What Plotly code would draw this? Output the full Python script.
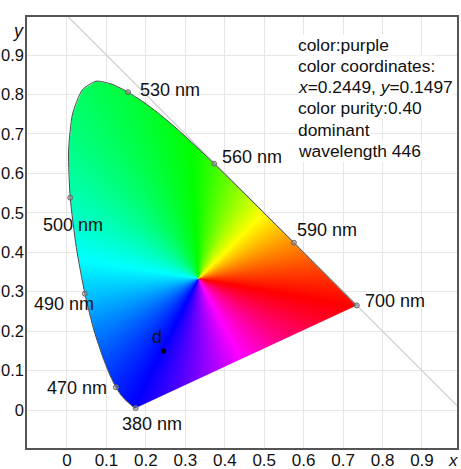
import numpy as np
import plotly.graph_objects as go

# CIE 1931 2-degree spectral locus, 380-700 nm in 5 nm steps
wavelength_nm = list(range(380, 705, 5))
locus_x = [0.1741, 0.1740, 0.1738, 0.1736, 0.1733, 0.1730, 0.1726, 0.1721, 0.1714, 0.1703,
           0.1689, 0.1669, 0.1644, 0.1611, 0.1566, 0.1510, 0.1440, 0.1355, 0.1241, 0.1096,
           0.0913, 0.0687, 0.0454, 0.0235, 0.0082, 0.0039, 0.0139, 0.0389, 0.0743, 0.1142,
           0.1547, 0.1929, 0.2296, 0.2658, 0.3016, 0.3373, 0.3731, 0.4087, 0.4441, 0.4788,
           0.5125, 0.5448, 0.5752, 0.6029, 0.6270, 0.6482, 0.6658, 0.6801, 0.6915, 0.7006,
           0.7079, 0.7140, 0.7190, 0.7230, 0.7260, 0.7283, 0.7300, 0.7311, 0.7320, 0.7327,
           0.7334, 0.7340, 0.7344, 0.7346, 0.7347]
locus_y = [0.0050, 0.0050, 0.0049, 0.0049, 0.0048, 0.0048, 0.0048, 0.0048, 0.0051, 0.0058,
           0.0069, 0.0086, 0.0109, 0.0138, 0.0177, 0.0227, 0.0297, 0.0399, 0.0578, 0.0868,
           0.1327, 0.2007, 0.2950, 0.4127, 0.5384, 0.6548, 0.7502, 0.8120, 0.8338, 0.8262,
           0.8059, 0.7816, 0.7543, 0.7243, 0.6923, 0.6589, 0.6245, 0.5896, 0.5547, 0.5202,
           0.4866, 0.4544, 0.4242, 0.3965, 0.3725, 0.3514, 0.3340, 0.3197, 0.3083, 0.2993,
           0.2920, 0.2859, 0.2809, 0.2770, 0.2740, 0.2717, 0.2700, 0.2689, 0.2680, 0.2673,
           0.2666, 0.2660, 0.2656, 0.2654, 0.2653]

labeled_nm = [380, 470, 490, 500, 530, 560, 590, 700]

white_point = (1 / 3, 1 / 3)
sample_x = 0.2449
sample_y = 0.1497
sample_name = "d"

info_lines = ["color:purple",
              "color coordinates:",
              "<i>x</i>=0.2449, <i>y</i>=0.1497",
              "color purity:0.40",
              "dominant",
              "wavelength 446"]

x_ticks = [0, 0.1, 0.2, 0.3, 0.4, 0.5, 0.6, 0.7, 0.8, 0.9]
y_ticks = [0, 0.1, 0.2, 0.3, 0.4, 0.5, 0.6, 0.7, 0.8, 0.9]

# ---- layout geometry ----
W, H = 461, 469
M_L, M_R, M_T, M_B = 27, 4, 17, 21
X_RANGE = [-0.1014, 0.9888]
Y_RANGE = [-0.0963, 0.9965]
plot_w = W - M_L - M_R
plot_h = H - M_T - M_B
px_x = (X_RANGE[1] - X_RANGE[0]) / plot_w
px_y = (Y_RANGE[1] - Y_RANGE[0]) / plot_h

FONT = "Liberation Sans, Arial, sans-serif"

# hue wheel around the white point: direction angle (deg) -> HSV hue (deg)
wheel_angle = [-10, 45, 93, 171, 243, 298, 350]
wheel_hue = [0, 60, 120, 180, 240, 300, 360]

# ---- raster fill of the gamut (pixel-aligned) ----
vx = np.array(locus_x)
vy = np.array(locus_y)
i0 = int(np.floor((vx.min() - X_RANGE[0]) / px_x)) - 1
i1 = int(np.ceil((vx.max() - X_RANGE[0]) / px_x)) + 1
j0 = int(np.floor((vy.min() - Y_RANGE[0]) / px_y)) - 1
j1 = int(np.ceil((vy.max() - Y_RANGE[0]) / px_y)) + 1
xs = X_RANGE[0] + (np.arange(i0, i1) + 0.5) * px_x
ys = Y_RANGE[0] + (np.arange(j0, j1) + 0.5) * px_y
GX, GY = np.meshgrid(xs, ys)
qx, qy = GX.ravel(), GY.ravel()

inside = np.zeros(qx.shape, dtype=bool)
dmin = np.full(qx.shape, np.inf)
n = len(vx)
for k in range(n):
    x1, y1 = vx[k], vy[k]
    x2, y2 = vx[(k + 1) % n], vy[(k + 1) % n]
    ex, ey = x2 - x1, y2 - y1
    if ex == 0 and ey == 0:
        continue
    cross = (y1 > qy) != (y2 > qy)
    with np.errstate(divide="ignore", invalid="ignore"):
        xint = x1 + ex * (qy - y1) / ey if ey != 0 else np.full(qx.shape, np.inf)
    inside ^= cross & (qx < xint)
    t = np.clip(((qx - x1) * ex + (qy - y1) * ey) / (ex * ex + ey * ey), 0, 1)
    d = np.hypot(qx - x1 - t * ex, qy - y1 - t * ey)
    dmin = np.minimum(dmin, d)

sd = np.where(inside, dmin, -dmin) / px_x
alpha = np.clip(0.5 + sd, 0, 1)

ang = np.degrees(np.arctan2(qy - white_point[1], qx - white_point[0]))
ang = np.mod(ang + 10, 360) - 10
hue = np.mod(np.interp(ang, wheel_angle, wheel_hue), 360)
h6 = hue / 60.0
sector = np.floor(h6).astype(int) % 6
f = h6 - np.floor(h6)
one = np.ones_like(f)
zero = np.zeros_like(f)
conds = [sector == s for s in range(6)]
r = np.select(conds, [one, 1 - f, zero, zero, f, one])
g = np.select(conds, [f, one, one, 1 - f, zero, zero])
b = np.select(conds, [zero, zero, f, one, one, 1 - f])

shape = GX.shape
on = alpha > 0
R = np.where(on, np.round(r * 255), 0).astype(int).reshape(shape)
G = np.where(on, np.round(g * 255), 0).astype(int).reshape(shape)
B = np.where(on, np.round(b * 255), 0).astype(int).reshape(shape)
A = np.round(alpha, 2).reshape(shape)

rgb_rows = np.stack([R, G, B], axis=-1).tolist()
a_rows = A.tolist()
z = [[p + [a] for p, a in zip(row_rgb, row_a)] for row_rgb, row_a in zip(rgb_rows, a_rows)]

fig = go.Figure()

# reference diagonal x + y = 1
fig.add_trace(go.Scatter(x=[0, 1], y=[1, 0], mode="lines",
                         line=dict(color="#d0d0d0", width=1.3),
                         hoverinfo="skip", showlegend=False))

fig.add_trace(go.Image(z=z, colormodel="rgba", x0=float(xs[0]), dx=px_x,
                       y0=float(ys[0]), dy=px_y, hoverinfo="skip"))

# spectral locus outline
fig.add_trace(go.Scatter(x=locus_x, y=locus_y, mode="lines",
                         line=dict(color="#4a4a4a", width=1, shape="spline", smoothing=0.6),
                         hoverinfo="skip", showlegend=False))

# labelled wavelength points
lab_x = [locus_x[wavelength_nm.index(w)] for w in labeled_nm]
lab_y = [locus_y[wavelength_nm.index(w)] for w in labeled_nm]
fig.add_trace(go.Scatter(x=lab_x, y=lab_y, mode="markers",
                         marker=dict(size=5, color="rgba(140,140,140,0.55)",
                                     line=dict(color="#6a6a6a", width=1)),
                         hoverinfo="skip", showlegend=False))

# sample colour point
fig.add_trace(go.Scatter(x=[sample_x], y=[sample_y], mode="markers",
                         marker=dict(size=5, color="black"),
                         hoverinfo="skip", showlegend=False))

annotations = []
# wavelength label offsets (px) relative to their locus point
label_offsets = {380: (-16, -16), 470: (-70.5, -1), 490: (-52.5, -10), 500: (-29.5, -27),
                 530: (9.5, 2.5), 560: (5.5, 7), 590: (1, 13), 700: (6, 4.5)}
for w, lx, ly in zip(labeled_nm, lab_x, lab_y):
    ox, oy = label_offsets[w]
    annotations.append(dict(x=lx, y=ly, xref="x", yref="y", text=f"{w} nm",
                            showarrow=False, xanchor="left", yanchor="middle",
                            xshift=ox, yshift=oy,
                            font=dict(family=FONT, size=18, color="#111")))

annotations.append(dict(x=sample_x, y=sample_y, xref="x", yref="y", text=sample_name,
                        showarrow=False, xanchor="center", yanchor="middle",
                        xshift=-6.5, yshift=14,
                        font=dict(family=FONT, size=18, color="#111")))

# info panel, one line per annotation
row_py = [45, 66, 87, 108, 130, 151]
for txt, py in zip(info_lines, row_py):
    annotations.append(dict(x=(297 - M_L) / plot_w, y=(H - M_B - py) / plot_h,
                            xref="paper", yref="paper", text=txt, showarrow=False,
                            xanchor="left", yanchor="middle", bgcolor="white",
                            borderpad=0,
                            font=dict(family=FONT, size=17.4, color="#111")))

# axis letters
annotations.append(dict(x=(18 - M_L) / plot_w, y=(H - M_B - 31) / plot_h,
                        xref="paper", yref="paper", text="<i>y</i>", showarrow=False,
                        xanchor="center", yanchor="middle", borderpad=0,
                        font=dict(family=FONT, size=18, color="#111")))
annotations.append(dict(x=(453 - M_L) / plot_w, y=(H - M_B - 460) / plot_h,
                        xref="paper", yref="paper", text="<i>x</i>", showarrow=False,
                        xanchor="center", yanchor="middle", borderpad=0,
                        font=dict(family=FONT, size=17, color="#111")))

axis_common = dict(showgrid=True, gridcolor="#e6e6e6", gridwidth=1,
                   showline=True, linecolor="#555555", linewidth=1.5, mirror=True,
                   zeroline=False, ticks="", automargin=False)

fig.update_layout(
    width=W, height=H,
    margin=dict(l=M_L, r=M_R, t=M_T, b=M_B, autoexpand=False),
    paper_bgcolor="white", plot_bgcolor="white",
    showlegend=False,
    xaxis=dict(range=X_RANGE, tickvals=x_ticks, ticklabelstandoff=-4,
               tickfont=dict(family=FONT, size=17, color="#111"), **axis_common),
    yaxis=dict(range=Y_RANGE, tickvals=y_ticks, scaleanchor=False,
               autorange=False, ticklabelstandoff=-2,
               tickfont=dict(family=FONT, size=16.5, color="#111"), **axis_common),
    annotations=annotations,
)

fig.write_html("out.html")
